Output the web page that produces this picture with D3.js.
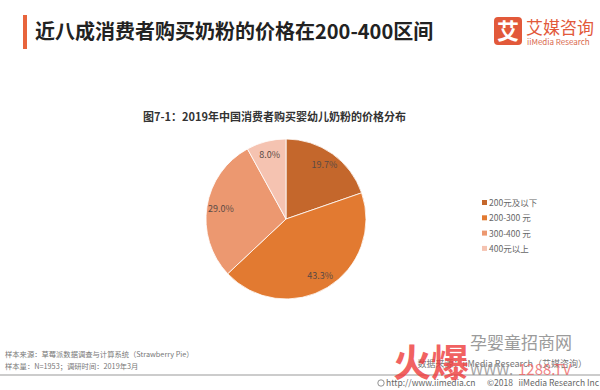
<!DOCTYPE html>
<html>
<head>
<meta charset="utf-8">
<script src="https://cdn.jsdelivr.net/npm/d3@7"></script>
<style>
  body { margin: 0; background: #fff; }
  svg { display: block; font-family: "Noto Sans CJK SC", "Microsoft YaHei", sans-serif; }
</style>
</head>
<body>
<svg id="viz" width="600" height="390"></svg>
<script>
// chart data
var categories = ["200元及以下", "200-300 元", "300-400 元", "400元以上"];
var shares = [19.7, 43.3, 29.0, 8.0];
var sliceColors = ["#c4672c", "#e27a31", "#ec9870", "#f5c3b1"];

var svg = d3.select("#viz");

// header: red bar + title
svg.append("rect").attr("x", 23).attr("y", 15).attr("width", 4).attr("height", 34).attr("fill", "#e8643c");
svg.append("text").attr("x", 35).attr("y", 39)
    .style("font-size", "20px").style("font-weight", 700).attr("fill", "#222")
    .text("近八成消费者购买奶粉的价格在200-400区间");

// logo
svg.append("rect").attr("x", 494).attr("y", 17).attr("width", 28).attr("height", 28).attr("rx", 4).attr("fill", "#e2593a");
svg.append("text").attr("x", 508).attr("y", 39).attr("text-anchor", "middle")
    .style("font-size", "22px").style("font-weight", 700).attr("fill", "#fff").text("艾");
svg.append("text").attr("x", 526).attr("y", 34)
    .style("font-size", "17px").attr("fill", "#e2593a").text("艾媒咨询");
svg.append("text").attr("x", 527).attr("y", 45)
    .style("font-size", "8px").attr("fill", "#d9694d").text("iiMedia Research");

// chart subtitle
svg.append("text").attr("x", 143).attr("y", 121)
    .style("font-size", "11px").style("font-weight", 700).attr("fill", "#333")
    .text("图7-1：2019年中国消费者购买婴幼儿奶粉的价格分布");

// pie
var cx = 286, cy = 219, radius = 80;
var pie = d3.pie().sort(null).value(function(d) { return d; });
var arc = d3.arc().innerRadius(0).outerRadius(radius);
var labelArc = d3.arc().innerRadius(66).outerRadius(66);
var arcs = pie(shares);

var g = svg.append("g").attr("transform", "translate(" + cx + "," + cy + ")");
g.selectAll("path").data(arcs).enter().append("path")
    .attr("d", arc)
    .attr("fill", function(d, i) { return sliceColors[i]; })
    .attr("stroke", "#fff").attr("stroke-width", 0.8);

g.selectAll("text").data(arcs).enter().append("text")
    .attr("transform", function(d) { return "translate(" + labelArc.centroid(d) + ")"; })
    .attr("text-anchor", "middle").attr("dy", "0.35em")
    .style("font-size", "9px").attr("fill", "#5a4a44")
    .text(function(d) { return d.data.toFixed(1) + "%"; });

// legend
var legend = svg.append("g").selectAll("g").data(categories).enter().append("g")
    .attr("transform", function(d, i) { return "translate(482," + (203 + i * 15.3) + ")"; });
legend.append("rect").attr("x", 0).attr("y", -3).attr("width", 5).attr("height", 5)
    .attr("fill", function(d, i) { return sliceColors[i]; });
legend.append("text").attr("x", 7).attr("y", 0).attr("dy", "0.35em")
    .style("font-size", "8.5px").attr("fill", "#666")
    .text(function(d) { return d; });

// footer
svg.append("text").attr("x", 5).attr("y", 357).style("font-size", "7.3px").attr("fill", "#777")
    .text("样本来源：草莓派数据调查与计算系统（Strawberry   Pie）");
svg.append("text").attr("x", 5).attr("y", 369).style("font-size", "7.3px").attr("fill", "#777")
    .text("样本量：N=1953；调研时间：2019年3月");
svg.append("line").attr("x1", 0).attr("x2", 600).attr("y1", 375).attr("y2", 375)
    .attr("stroke", "#999").attr("stroke-width", 1);

// copyright row
svg.append("circle").attr("cx", 381).attr("cy", 383).attr("r", 3.2)
    .attr("fill", "none").attr("stroke", "#777").attr("stroke-width", 0.8);
svg.append("text").attr("x", 386).attr("y", 386)
    .style("font-size", "8.5px").attr("fill", "#666").text("http://www.iimedia.cn");
svg.append("text").attr("x", 487).attr("y", 386)
    .style("font-size", "8.5px").attr("fill", "#666").text("©2018");
svg.append("text").attr("x", 599).attr("y", 386).attr("text-anchor", "end")
    .style("font-size", "8.5px").attr("fill", "#666").text("iiMedia Research Inc");

svg.append("text").attr("x", 587).attr("y", 367).attr("text-anchor", "end")
    .style("font-size", "9px").attr("fill", "#777")
    .text("数据来源：iiMedia Research（艾媒咨询）");

// watermark overlay
svg.append("text").attr("x", 393).attr("y", 376)
    .style("font-size", "38px").style("font-weight", 700).attr("fill", "#ee3b3b").attr("opacity", 0.8)
    .text("火爆");
svg.append("text").attr("x", 470).attr("y", 349)
    .style("font-size", "17px").attr("fill", "#8a8a8a").attr("opacity", 0.85)
    .text("孕婴童招商网");
svg.append("text").attr("x", 470).attr("y", 375)
    .style("font-size", "15px").attr("fill", "#888").attr("opacity", 0.75)
    .text("WWW.");
svg.append("text").attr("x", 518).attr("y", 375)
    .style("font-size", "15px").attr("fill", "#ee5b5b").attr("opacity", 0.75)
    .text("1288.TV");
</script>
</body>
</html>
